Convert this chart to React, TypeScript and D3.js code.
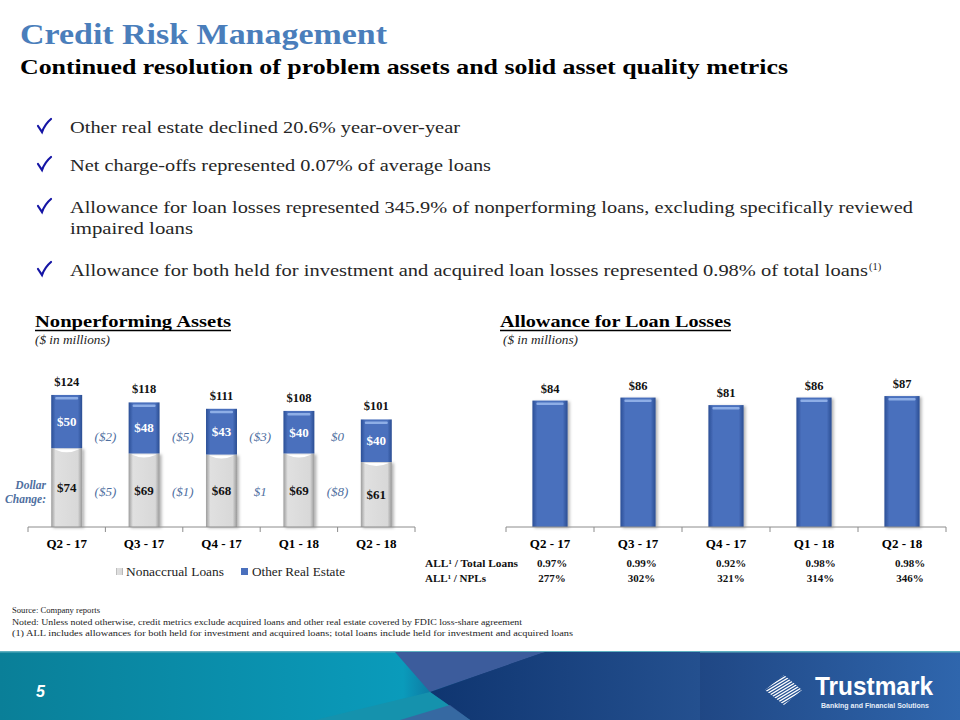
import React from "react";
import * as d3 from "d3";

const quarters = ["Q2 - 17", "Q3 - 17", "Q4 - 17", "Q1 - 18", "Q2 - 18"];
const nonaccrual = [74, 69, 68, 69, 61];
const otherRealEstate = [50, 48, 43, 40, 40];
const totals = [124, 118, 111, 108, 101];
const oreChange = [-2, -5, -3, 0];
const nonaccrualChange = [-5, -1, 1, -8];
const allowance = [84, 86, 81, 86, 87];
const allTotalLoans = ["0.97%", "0.99%", "0.92%", "0.98%", "0.98%"];
const allNPLs = ["277%", "302%", "321%", "314%", "346%"];

const bullets = [
  "Other real estate declined 20.6% year-over-year",
  "Net charge-offs represented 0.07% of average loans",
  "Allowance for loan losses represented 345.9% of nonperforming loans, excluding specifically reviewed",
  "impaired loans",
  "Allowance for both held for investment and acquired loan losses represented 0.98% of total loans",
];
const footnotes = [
  "Source: Company  reports",
  "Noted: Unless noted otherwise,  credit metrics exclude acquired loans and  other real estate covered by FDIC loss-share  agreement",
  "(1) ALL includes allowances  for both held for investment  and acquired loans;  total loans include held for investment  and acquired loans",
];

const SERIF = "'Liberation Serif', 'DejaVu Serif', serif";
const SANS = "'Liberation Sans', Arial, sans-serif";

const fmtMoney = (v: number) => `$${v}`;
const fmtChange = (v: number) => (v < 0 ? `($${Math.abs(v)})` : `$${v}`);

function Check({ x, y }: { x: number; y: number }) {
  return (
    <path
      d={`M${x},${y + 2} L${x + 4},${y + 8} Q${x + 7},${y} ${x + 13},${y - 5}`}
      fill="none"
      stroke="#1515a5"
      strokeWidth={2.2}
      strokeLinecap="round"
    />
  );
}

export default function App() {
  const axisYL = 527;
  const xL = d3.scaleBand<string>().domain(quarters).range([28, 415]).paddingInner(0.6).paddingOuter(0.3);
  const yL = d3.scaleLinear().domain([0, 140]).range([axisYL, axisYL - 149.1]);
  const stepL = xL.step();

  const axisYR = 527;
  const xR = d3.scaleBand<string>().domain(quarters).range([506, 946]).paddingInner(0.6).paddingOuter(0.3);
  const yR = d3.scaleLinear().domain([0, 100]).range([axisYR, axisYR - 150.5]);
  const stepR = xR.step();

  const bulletY = [133, 171, 213, 234, 276];
  const bulletLen = [390, 421, 843, 123, 798];
  const footLen = [88, 510, 561];

  return (
    <svg width={960} height={720} style={{ position: "absolute", left: 0, top: 0 }} fontFamily={SERIF}>
      <defs>
        <linearGradient id="blueG" x1="0" x2="1" y1="0" y2="0">
          <stop offset="0" stopColor="#2b4f96" />
          <stop offset="0.14" stopColor="#4a70bd" />
          <stop offset="0.86" stopColor="#4a70bd" />
          <stop offset="1" stopColor="#2a4d92" />
        </linearGradient>
        <linearGradient id="grayG" x1="0" x2="1" y1="0" y2="0">
          <stop offset="0" stopColor="#9c9c9c" />
          <stop offset="0.14" stopColor="#e0e0e0" />
          <stop offset="0.86" stopColor="#d8d8d8" />
          <stop offset="1" stopColor="#989898" />
        </linearGradient>
        <linearGradient id="bandG" x1="0" x2="1" y1="0" y2="0">
          <stop offset="0" stopColor="#0a7f98" />
          <stop offset="0.42" stopColor="#0a9bbb" />
          <stop offset="0.5" stopColor="#143f78" />
          <stop offset="0.72" stopColor="#1f4683" />
          <stop offset="1" stopColor="#2f66ad" />
        </linearGradient>
        <linearGradient id="navyG" x1="0" x2="1" y1="0" y2="0">
          <stop offset="0" stopColor="#0f3570" />
          <stop offset="1" stopColor="#24508f" />
        </linearGradient>
        <filter id="shadow" x="-20%" y="-10%" width="140%" height="120%">
          <feDropShadow dx="2" dy="1" stdDeviation="1.5" floodColor="#000" floodOpacity="0.3" />
        </filter>
        <clipPath id="diamond">
          <polygon points="784,675 802,690 784,705 765,690" />
        </clipPath>
      </defs>

      <rect x={0} y={0} width={960} height={720} fill="#ffffff" />

      {/* Titles */}
      <text x={20} y={44} fontSize={29} fontWeight="bold" fill="#4a7ebb" textLength={367} lengthAdjust="spacingAndGlyphs">
        Credit Risk Management
      </text>
      <text x={20} y={74} fontSize={20.5} fontWeight="bold" fill="#000" textLength={768} lengthAdjust="spacingAndGlyphs">
        Continued resolution of problem assets and solid asset quality metrics
      </text>

      {/* Bullets */}
      {[0, 1, 2, 4].map((i) => (
        <Check key={"c" + i} x={38} y={bulletY[i] - 9} />
      ))}
      {bullets.map((b, i) => (
        <text
          key={"b" + i}
          x={70}
          y={bulletY[i]}
          fontSize={17.5}
          fill="#262626"
          textLength={bulletLen[i]}
          lengthAdjust="spacingAndGlyphs"
        >
          {b}
        </text>
      ))}
      <text x={869} y={270} fontSize={10.5} fill="#262626">(1)</text>

      {/* Left chart title */}
      <text x={35} y={327} fontSize={17} fontWeight="bold" fill="#000" textLength={196} lengthAdjust="spacingAndGlyphs">
        Nonperforming Assets
      </text>
      <line x1={35} x2={231} y1={330.5} y2={330.5} stroke="#000" strokeWidth={1.3} />
      <text x={35} y={344} fontSize={12} fontStyle="italic" fill="#222" textLength={75} lengthAdjust="spacingAndGlyphs">($ in millions)</text>

      {/* Right chart title */}
      <text x={500} y={327} fontSize={17} fontWeight="bold" fill="#000" textLength={231} lengthAdjust="spacingAndGlyphs">
        Allowance for Loan Losses
      </text>
      <line x1={500} x2={731} y1={330.5} y2={330.5} stroke="#000" strokeWidth={1.3} />
      <text x={503} y={344} fontSize={12} fontStyle="italic" fill="#222" textLength={75} lengthAdjust="spacingAndGlyphs">($ in millions)</text>

      {/* Left chart bars */}
      {quarters.map((q, i) => {
        const x = xL(q)!;
        const w = xL.bandwidth();
        const yNa = yL(nonaccrual[i]);
        const yTop = yL(nonaccrual[i] + otherRealEstate[i]);
        return (
          <g key={"lb" + q}>
            <rect x={x} y={yNa} width={w} height={axisYL - yNa} fill="url(#grayG)" filter="url(#shadow)" />
            <path d={`M${x + 3},${yNa + 1} Q${x + w / 2},${yNa + 7} ${x + w - 3},${yNa + 1} Z`} fill="#ffffff" />
            <rect x={x} y={yTop} width={w} height={yNa - yTop} fill="url(#blueG)" />
            <rect x={x + 4} y={yTop + 2} width={w - 8} height={2.5} fill="#8eaee6" rx={1} />
            <text x={x + w / 2} y={(yTop + yNa) / 2 + 4.5} fontSize={13} fontWeight="bold" fill="#ffffff" textAnchor="middle">
              {fmtMoney(otherRealEstate[i])}
            </text>
            <text x={x + w / 2} y={(yNa + axisYL) / 2 + 4.5} fontSize={13} fontWeight="bold" fill="#111" textAnchor="middle">
              {fmtMoney(nonaccrual[i])}
            </text>
            <text x={x + w / 2} y={yTop - 9} fontSize={12.5} fontWeight="bold" fill="#111" textAnchor="middle">
              {fmtMoney(totals[i])}
            </text>
          </g>
        );
      })}
      {oreChange.map((v, i) => (
        <text key={"oc" + i} x={28 + stepL * (i + 1)} y={441} fontSize={13} fontStyle="italic" fill="#4f6f9f" textAnchor="middle">
          {fmtChange(v)}
        </text>
      ))}
      {nonaccrualChange.map((v, i) => (
        <text key={"nc" + i} x={28 + stepL * (i + 1)} y={496} fontSize={13} fontStyle="italic" fill="#4f6f9f" textAnchor="middle">
          {fmtChange(v)}
        </text>
      ))}
      <text x={46} y={489} fontSize={11.5} fontStyle="italic" fontWeight="bold" fill="#4f6f9f" textAnchor="end">Dollar</text>
      <text x={46} y={503} fontSize={11.5} fontStyle="italic" fontWeight="bold" fill="#4f6f9f" textAnchor="end">Change:</text>

      {/* Left axis */}
      <line x1={28} x2={415} y1={axisYL} y2={axisYL} stroke="#8c8c8c" strokeWidth={1} />
      {d3.range(6).map((i) => (
        <line key={"lt" + i} x1={28 + stepL * i} x2={28 + stepL * i} y1={axisYL} y2={axisYL + 5} stroke="#8c8c8c" />
      ))}
      {quarters.map((q) => (
        <text key={"lx" + q} x={xL(q)! + xL.bandwidth() / 2} y={548} fontSize={13} fontWeight="bold" fill="#000" textAnchor="middle">
          {q}
        </text>
      ))}

      {/* Left legend */}
      <rect x={116} y={568} width={7} height={7} fill="url(#grayG)" />
      <text x={126} y={576} fontSize={12.5} fill="#222" textLength={98} lengthAdjust="spacingAndGlyphs">Nonaccrual Loans</text>
      <rect x={241} y={568} width={7} height={7} fill="#4a70bd" />
      <text x={252} y={576} fontSize={12.5} fill="#222" textLength={93} lengthAdjust="spacingAndGlyphs">Other Real Estate</text>

      {/* Right chart bars */}
      {quarters.map((q, i) => {
        const x = xR(q)!;
        const w = xR.bandwidth();
        const yt = yR(allowance[i]);
        return (
          <g key={"rb" + q}>
            <rect x={x} y={yt} width={w} height={axisYR - yt} fill="url(#blueG)" filter="url(#shadow)" />
            <rect x={x + 4} y={yt + 2} width={w - 8} height={2.5} fill="#8eaee6" rx={1} />
            <text x={x + w / 2} y={yt - 8} fontSize={12.5} fontWeight="bold" fill="#111" textAnchor="middle">
              {fmtMoney(allowance[i])}
            </text>
          </g>
        );
      })}
      <line x1={506} x2={946} y1={axisYR} y2={axisYR} stroke="#8c8c8c" strokeWidth={1} />
      {d3.range(6).map((i) => (
        <line key={"rt" + i} x1={506 + stepR * i} x2={506 + stepR * i} y1={axisYR} y2={axisYR + 5} stroke="#8c8c8c" />
      ))}
      {quarters.map((q) => (
        <text key={"rx" + q} x={xR(q)! + xR.bandwidth() / 2} y={548} fontSize={13} fontWeight="bold" fill="#000" textAnchor="middle">
          {q}
        </text>
      ))}

      {/* Ratios table */}
      <text x={425} y={567} fontSize={11} fontWeight="bold" fill="#111" textLength={93} lengthAdjust="spacingAndGlyphs">ALL¹ / Total Loans</text>
      <text x={425} y={582} fontSize={11} fontWeight="bold" fill="#111" textLength={61} lengthAdjust="spacingAndGlyphs">ALL¹ / NPLs</text>
      {quarters.map((q, i) => (
        <g key={"tb" + q}>
          <text x={xR(q)! + xR.bandwidth() / 2 + 2 + i * 1.5} y={567} fontSize={11} fontWeight="bold" fill="#111" textAnchor="middle">
            {allTotalLoans[i]}
          </text>
          <text x={xR(q)! + xR.bandwidth() / 2 + 2 + i * 1.5} y={582} fontSize={11} fontWeight="bold" fill="#111" textAnchor="middle">
            {allNPLs[i]}
          </text>
        </g>
      ))}

      {/* Footnotes */}
      {footnotes.map((f, i) => (
        <text key={"fn" + i} x={12} y={613 + i * 11.5} fontSize={8.6} fill="#222" textLength={footLen[i]} lengthAdjust="spacingAndGlyphs">
          {f}
        </text>
      ))}

      {/* Footer band */}
      <rect x={0} y={651} width={960} height={69} fill="url(#bandG)" />
      <rect x={0} y={651} width={960} height={1.5} fill="#5fb0c0" />
      <polygon points="395,652 545,652 430,692" fill="#3c5c9c" />
      <polygon points="430,692 545,652 700,652 700,720 470,720" fill="url(#navyG)" />
      <polygon points="315,720 430,692 470,720" fill="#1592ad" />
      <polygon points="400,720 450,705 470,720" fill="#3e5f9f" opacity={0.8} />
      <text x={36} y={697} fontSize={16} fontWeight="bold" fontStyle="italic" fill="#ffffff" fontFamily={SANS}>5</text>

      {/* Logo */}
      <g clipPath="url(#diamond)">
        {d3.range(14).map((k) => (
          <line
            key={"lg" + k}
            x1={760}
            y1={700 + k * 3 - 20}
            x2={806}
            y2={672 + k * 3 - 20}
            stroke="#ffffff"
            strokeWidth={1.3}
          />
        ))}
      </g>
      <text x={815} y={695} fontSize={25} fontWeight="bold" fill="#ffffff" fontFamily={SANS} textLength={118} lengthAdjust="spacingAndGlyphs">
        Trustmark
      </text>
      <text x={821} y={708} fontSize={6.5} fontWeight="bold" fill="#e6eef8" fontFamily={SANS} textLength={108} lengthAdjust="spacingAndGlyphs">
        Banking and Financial Solutions
      </text>
    </svg>
  );
}
